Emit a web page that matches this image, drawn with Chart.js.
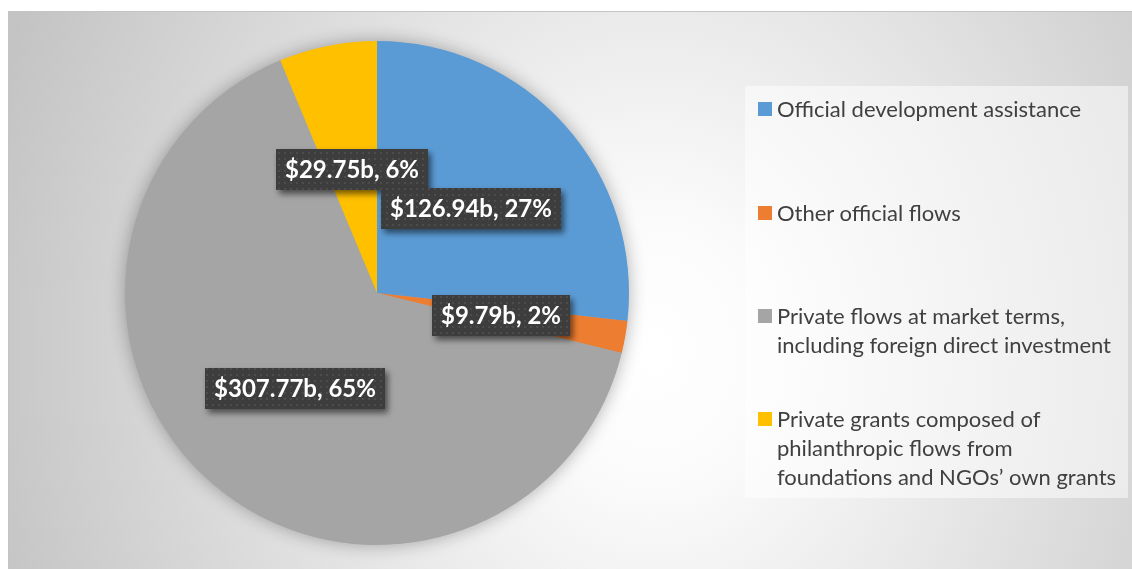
<!DOCTYPE html>
<html>
<head>
<meta charset="utf-8">
<script src="https://cdn.jsdelivr.net/npm/chart.js@4.4.0/dist/chart.umd.min.js"></script>
<style>
  html, body { margin:0; padding:0; width:1132px; height:569px; overflow:hidden; background:#ffffff; }
  #frame {
    position:absolute; left:8px; top:11px; width:1130px; height:565px;
    border-top:1px solid #c4c4c4; border-left:1px solid #c4c4c4;
    background: radial-gradient(ellipse 700px 820px at 645px 340px, #ffffff 0%, #fbfbfb 16%, #c3c3c3 100%);
  }
  #chart { position:absolute; left:0; top:0; }
  #legend {
    position:absolute; left:745px; top:86px; width:383px; height:412px;
    background: rgba(255,255,255,0.5);
    font-family: Lato, "Open Sans", sans-serif; font-size:22px; color:#404040;
  }
  .item { position:absolute; left:13px; }
  .sw { position:absolute; left:0; top:8px; width:14px; height:14px; }
  .txt { position:absolute; left:19px; white-space:nowrap; line-height:29px; }
</style>
</head>
<body>
<div id="frame"></div>
<canvas id="chart" width="1132" height="569"></canvas>
<div id="legend"></div>
<script>
// ---- data ----
const categories = [
  ["Official development assistance"],
  ["Other official flows"],
  ["Private flows at market terms,", "including foreign direct investment"],
  ["Private grants composed of", "philanthropic flows from", "foundations and NGOs\u2019 own grants"]
];
const valuesBillions = [126.94, 9.79, 307.77, 29.75];
const sliceColors = ["#5B9BD5", "#ED7D31", "#A5A5A5", "#FFC000"];

// ---- legend (HTML) ----
const legendTops = [7.5, 111.5, 214.5, 317.5];
const legend = document.getElementById('legend');
categories.forEach((lines, i) => {
  const it = document.createElement('div');
  it.className = 'item';
  it.style.top = legendTops[i] + 'px';
  const sw = document.createElement('div');
  sw.className = 'sw';
  sw.style.background = sliceColors[i];
  const tx = document.createElement('div');
  tx.className = 'txt';
  tx.innerHTML = lines.map(l => l.replace(/&/g,'&amp;')).join('<br>');
  it.appendChild(sw); it.appendChild(tx);
  legend.appendChild(it);
});

// ---- dotted pattern for label boxes ----
function makePattern(ctx) {
  const p = document.createElement('canvas');
  p.width = 6; p.height = 6;
  const pc = p.getContext('2d');
  pc.fillStyle = '#3d3d3d'; pc.fillRect(0,0,6,6);
  pc.fillStyle = '#4c4c4c'; pc.fillRect(2,2,2,2);
  return ctx.createPattern(p, 'repeat');
}

const pieShadow = {
  id: 'pieShadow',
  beforeDatasetsDraw(chart) {
    const arc = chart.getDatasetMeta(0).data[0];
    if (!arc) return;
    const ctx = chart.ctx;
    ctx.save();
    ctx.shadowColor = 'rgba(0,0,0,0.32)';
    ctx.shadowBlur = 18;
    ctx.beginPath();
    ctx.arc(arc.x, arc.y, arc.outerRadius - 0.5, 0, Math.PI * 2);
    ctx.fillStyle = '#a5a5a5';
    ctx.fill();
    ctx.restore();
  }
};

const dataLabels = {
  id: 'dataLabels',
  afterDatasetsDraw(chart) {
    const ctx = chart.ctx;
    const meta = chart.getDatasetMeta(0);
    const vals = chart.data.datasets[0].data;
    const total = vals.reduce((a, b) => a + b, 0);
    const pat = makePattern(ctx);
    ctx.save();
    ctx.font = 'bold 24px Lato, "Open Sans", sans-serif';
    const order = meta.data.map((_, i) => i).reverse();
    order.forEach(i => {
      const arc = meta.data[i];
      const pos = arc.tooltipPosition();
      const txt = '$' + vals[i].toFixed(2) + 'b, ' + Math.round(vals[i] / total * 100) + '%';
      const tw = ctx.measureText(txt).width;
      const w = Math.round(tw + 18), h = 41;
      const x0 = Math.round(pos.x - w / 2), y0 = Math.round(pos.y - h / 2);
      ctx.save();
      ctx.shadowColor = 'rgba(0,0,0,0.55)';
      ctx.shadowBlur = 6;
      ctx.shadowOffsetX = 3;
      ctx.shadowOffsetY = 4;
      ctx.fillStyle = pat;
      ctx.fillRect(x0, y0, w, h);
      ctx.restore();
      ctx.fillStyle = '#ffffff';
      ctx.textAlign = 'center';
      ctx.textBaseline = 'middle';
      ctx.fillText(txt, x0 + w / 2, y0 + h / 2 + 1);
    });
    ctx.restore();
  }
};

new Chart(document.getElementById('chart'), {
  type: 'pie',
  data: {
    labels: categories,
    datasets: [{
      data: valuesBillions,
      backgroundColor: sliceColors,
      borderWidth: 0
    }]
  },
  options: {
    responsive: false,
    animation: false,
    layout: { padding: { left: 125, top: 41, right: 503, bottom: 24 } },
    plugins: { legend: { display: false }, tooltip: { enabled: false } }
  },
  plugins: [pieShadow, dataLabels]
});
</script>
</body>
</html>
